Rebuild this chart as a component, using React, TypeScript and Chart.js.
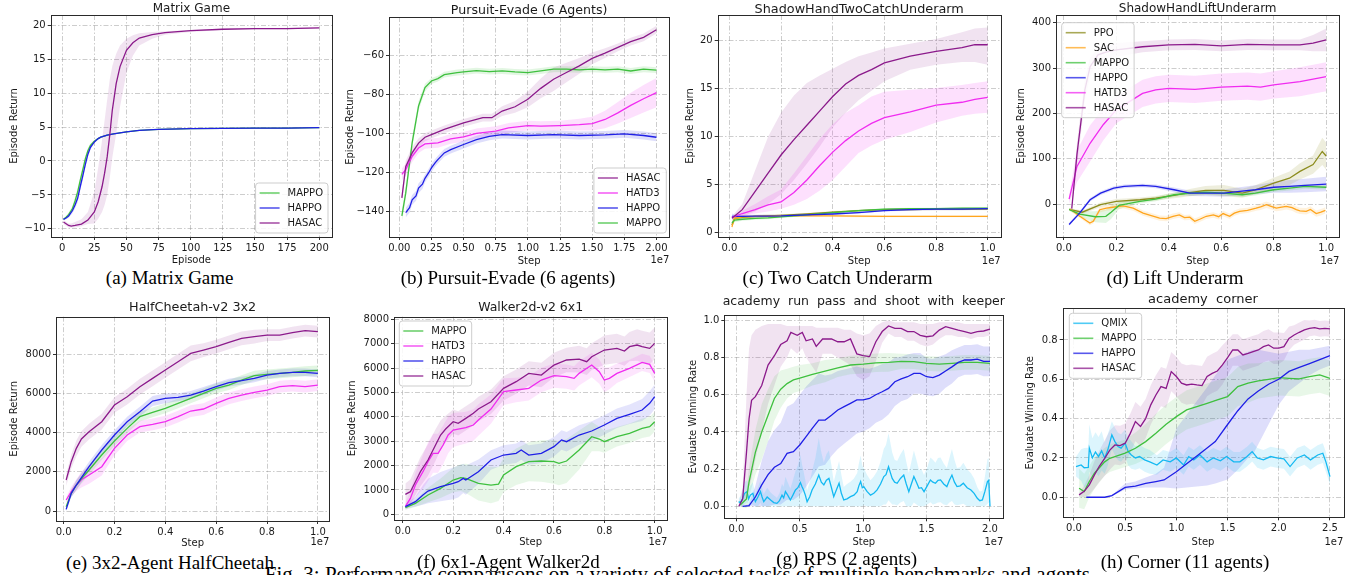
import React, { useEffect, useRef } from "react";
import { Chart, registerables } from "chart.js";
Chart.register(...registerables);

// ---------- colours ----------
const COLORS: Record<string, string> = {
  MAPPO: "#3fc03f",
  HAPPO: "#1f1fe6",
  HASAC: "#8b1a8b",
  HATD3: "#f02cf0",
  PPO: "#8c8c1e",
  SAC: "#ffa51e",
  QMIX: "#14b9f2",
};

// ---------- (a) Matrix Game ----------
const A_XTICKS = [0, 25, 50, 75, 100, 125, 150, 175, 200];
const A_YTICKS = [-10, -5, 0, 5, 10, 15, 20];
const A_HASAC_X = [1, 5, 7, 10, 15, 20, 25, 28, 31, 33, 35, 37, 39, 42, 45, 50, 55, 60, 70, 80, 100, 125, 150, 175, 200];
const A_HASAC = [-9.0, -9.5, -9.6, -9.5, -9.3, -8.7, -7.5, -6.0, -3.8, -1.8, 0.6, 3.8, 7.5, 11.4, 13.9, 16.3, 17.4, 18.1, 18.6, 18.9, 19.2, 19.4, 19.5, 19.5, 19.6];
const A_HASAC_HI = [-8.7, -9.2, -9.2, -9.0, -8.6, -7.5, -4.5, -1.0, 3.0, 6.0, 9.0, 12.0, 14.0, 15.8, 17.0, 18.0, 18.5, 18.8, 19.0, 19.1, 19.3, 19.5, 19.6, 19.6, 19.7];
const A_HASAC_LO = [-9.3, -9.8, -9.8, -9.8, -9.6, -9.3, -9.2, -8.5, -7.5, -6.5, -5.0, -2.5, 0.5, 4.0, 8.0, 13.0, 15.5, 17.0, 18.0, 18.6, 19.0, 19.3, 19.4, 19.4, 19.5];
const A_X = [1, 3, 5, 8, 10, 12, 14, 16, 18, 20, 22, 25, 28, 30, 35, 40, 50, 60, 75, 100, 125, 150, 175, 200];
const A_HAPPO = [-8.6, -8.4, -8.1, -7.3, -6.5, -5.5, -3.8, -2.2, -0.5, 1.0, 2.0, 2.8, 3.3, 3.5, 3.8, 4.0, 4.3, 4.5, 4.65, 4.75, 4.8, 4.85, 4.85, 4.9];
const A_MAPPO = [-8.6, -8.3, -7.9, -7.0, -5.9, -4.6, -2.9, -1.3, 0.3, 1.5, 2.3, 2.9, 3.3, 3.5, 3.8, 4.0, 4.3, 4.5, 4.65, 4.75, 4.8, 4.85, 4.85, 4.9];
const A_BAND_SD = [0.1, 0.2, 0.3, 0.4, 0.5, 0.6, 0.6, 0.6, 0.5, 0.4, 0.3, 0.2, 0.15, 0.1, 0.08, 0.06, 0.05, 0.04, 0.03, 0.03, 0.03, 0.03, 0.03, 0.03];

// ---------- (b) Pursuit-Evade ----------
const B_XTICKS = [0, 0.25, 0.5, 0.75, 1.0, 1.25, 1.5, 1.75, 2.0];
const B_YTICKS = [-140, -120, -100, -80, -60];
const B_HASAC_X = [0.02, 0.05, 0.1, 0.15, 0.2, 0.25, 0.35, 0.5, 0.65, 0.72, 0.8, 0.9, 1.0, 1.1, 1.2, 1.3, 1.4, 1.5, 1.6, 1.7, 1.8, 1.9, 2.0];
const B_HASAC = [-133, -117, -110, -105, -102, -100.6, -98, -94.6, -92, -92, -88.6, -86.4, -82.6, -77, -72.3, -68.9, -65.5, -61.7, -59, -56, -53.1, -50.9, -47];
const B_HASAC_SD = [3, 3, 3, 2.5, 2, 2, 2, 2, 2, 2, 2.5, 3, 4, 5, 6, 5, 4, 3, 2.5, 2, 2, 2, 2];
const B_HATD3_X = [0.02, 0.05, 0.1, 0.15, 0.2, 0.3, 0.4, 0.5, 0.6, 0.75, 0.85, 1.0, 1.1, 1.25, 1.4, 1.5, 1.6, 1.7, 1.8, 1.9, 2.0];
const B_HATD3 = [-121, -118.6, -111.7, -107.5, -105.4, -104.9, -102.8, -101.8, -100, -98.9, -97.2, -96, -96.3, -96, -95.5, -95, -92.9, -89.5, -85.7, -82.3, -79.2];
const B_HATD3_SD = [3, 3, 3, 2.5, 2.5, 2.5, 2.5, 2.5, 2.5, 2.5, 2.5, 2.5, 2.5, 2.5, 3, 3.5, 4.5, 5.5, 6.5, 7, 7.5];
const B_HAPPO_X = [0.05, 0.08, 0.1, 0.13, 0.15, 0.18, 0.2, 0.23, 0.25, 0.28, 0.3, 0.35, 0.4, 0.5, 0.6, 0.7, 0.8, 1.0, 1.2, 1.4, 1.6, 1.75, 1.9, 2.0];
const B_HAPPO = [-140.5, -138, -134, -132, -128, -126, -123, -120, -117.7, -115, -113.4, -110, -108.3, -105.7, -103.2, -101.5, -100.6, -101.1, -100.6, -101.1, -100.8, -100.3, -101.1, -102];
const B_HAPPO_SD = [2.5, 2.5, 2.5, 2.5, 2.5, 2.5, 2, 2, 2, 2, 2, 2, 2, 2, 2, 2, 2, 2, 2, 2, 2, 2, 2, 2];
const B_MAPPO_X = [0.02, 0.05, 0.1, 0.15, 0.2, 0.25, 0.3, 0.35, 0.45, 0.5, 0.6, 0.7, 0.8, 0.9, 1.0, 1.1, 1.2, 1.3, 1.4, 1.5, 1.6, 1.7, 1.8, 1.9, 2.0];
const B_MAPPO = [-142.2, -130.6, -104.9, -86, -76.6, -73.2, -72, -70, -68.9, -68.6, -67.9, -68.4, -68.1, -68.6, -68.9, -68.1, -67.2, -67.2, -67.5, -67.2, -67.5, -67.2, -68.1, -67.2, -67.7];
const B_MAPPO_SD = [3, 3, 3, 2.5, 2, 1.5, 1.5, 1.5, 1.5, 1.5, 1.5, 1.5, 1.5, 1.5, 1.5, 1.5, 1.5, 1.5, 1.5, 1.5, 1.5, 1.5, 1.5, 1.5, 1.5];

// ---------- (c) Two Catch Underarm ----------
const C_XTICKS = [0, 0.2, 0.4, 0.6, 0.8, 1.0];
const C_YTICKS = [0, 5, 10, 15, 20];
const C_X = [0.01, 0.05, 0.1, 0.15, 0.2, 0.25, 0.3, 0.35, 0.4, 0.45, 0.5, 0.55, 0.6, 0.7, 0.8, 0.9, 0.95, 1.0];
const C_HASAC = [1.5, 2.4, 4.3, 6.2, 8.1, 9.7, 11.2, 12.7, 14.2, 15.5, 16.4, 17.0, 17.7, 18.4, 18.9, 19.3, 19.6, 19.6];
const C_HASAC_HI = [1.7, 3.0, 6.5, 10.0, 12.5, 14.3, 15.6, 16.4, 17.1, 17.8, 18.4, 18.8, 19.2, 19.7, 20.2, 20.9, 21.3, 21.4];
const C_HASAC_LO = [1.3, 1.7, 2.2, 3.0, 4.0, 5.5, 7.2, 9.0, 11.0, 12.5, 13.8, 14.8, 15.8, 17.0, 17.5, 17.8, 17.8, 17.5];
const C_HATD3 = [1.6, 2.0, 2.4, 2.9, 3.2, 4.2, 5.5, 7.0, 8.4, 9.6, 10.6, 11.4, 12.0, 12.6, 13.3, 13.6, 13.9, 14.1];
const C_HATD3_HI = [1.7, 2.3, 3.0, 3.8, 4.5, 6.2, 8.0, 9.8, 11.3, 12.5, 13.3, 14.2, 14.7, 14.9, 15.1, 15.4, 15.6, 15.8];
const C_HATD3_LO = [1.5, 1.7, 2.0, 2.2, 2.5, 2.9, 3.5, 4.4, 5.5, 6.9, 8.3, 9.1, 9.7, 10.5, 11.5, 12.2, 12.4, 12.5];
const C_X2 = [0.01, 0.02, 0.05, 0.1, 0.15, 0.2, 0.3, 0.4, 0.5, 0.6, 0.7, 0.8, 0.9, 1.0];
const C_PPO = [0.8, 1.5, 1.6, 1.7, 1.75, 1.8, 1.95, 2.15, 2.3, 2.4, 2.42, 2.45, 2.45, 2.45];
const C_SAC = [0.6, 1.5, 1.65, 1.7, 1.72, 1.75, 1.75, 1.75, 1.72, 1.7, 1.7, 1.7, 1.7, 1.7];
const C_MAPPO = [1.0, 1.3, 1.4, 1.5, 1.55, 1.65, 1.85, 2.1, 2.3, 2.45, 2.5, 2.5, 2.55, 2.55];
const C_HAPPO = [1.7, 1.7, 1.7, 1.72, 1.73, 1.75, 1.85, 1.95, 2.1, 2.3, 2.4, 2.45, 2.45, 2.5];
const C_LOW_SD = [0.3, 0.2, 0.15, 0.15, 0.15, 0.12, 0.1, 0.1, 0.1, 0.1, 0.1, 0.1, 0.1, 0.1];

// ---------- (d) Lift Underarm ----------
const D_XTICKS = [0, 0.2, 0.4, 0.6, 0.8, 1.0];
const D_YTICKS = [0, 100, 200, 300, 400];
const D_HASAC_X = [0.03, 0.05, 0.08, 0.1, 0.13, 0.16, 0.2, 0.3, 0.4, 0.5, 0.6, 0.7, 0.8, 0.9, 0.95, 1.0];
const D_HASAC = [-10, 110, 252, 303, 329, 335, 340, 347, 351, 352, 349, 352, 351, 351, 355, 362];
const D_HASAC_SD = [5, 25, 25, 20, 15, 15, 15, 12, 12, 12, 12, 12, 12, 12, 18, 25];
const D_HATD3_X = [0.02, 0.05, 0.1, 0.15, 0.2, 0.25, 0.3, 0.35, 0.4, 0.5, 0.6, 0.7, 0.75, 0.8, 0.9, 1.0];
const D_HATD3 = [11, 83, 134, 175, 208, 226, 244, 252, 255, 253, 258, 260, 258, 263, 270, 281];
const D_HATD3_SD = [10, 35, 40, 35, 30, 30, 30, 30, 30, 30, 30, 30, 30, 30, 32, 32];
const D_HAPPO_X = [0.02, 0.06, 0.1, 0.14, 0.19, 0.23, 0.3, 0.35, 0.42, 0.48, 0.54, 0.61, 0.67, 0.73, 0.8, 0.86, 0.92, 1.0];
const D_HAPPO = [-45, -20, 9.5, 24, 35, 39, 41, 39, 31.5, 24, 24, 24, 28, 31.5, 37, 39, 41, 44];
const D_HAPPO_SD = [3, 4, 4, 4, 4, 4, 4, 4, 5, 6, 7, 8, 9, 10, 12, 14, 15, 16];
const D_PPO_X = [0.02, 0.07, 0.14, 0.2, 0.29, 0.35, 0.42, 0.48, 0.54, 0.61, 0.68, 0.73, 0.8, 0.86, 0.9, 0.95, 0.985, 1.0];
const D_PPO = [-12, -18, -1.5, 6, 9.5, 13, 19, 25, 30, 30, 24, 31.5, 46, 57, 72, 87, 116, 106];
const D_PPO_SD = [3, 4, 5, 5, 5, 5, 6, 8, 10, 12, 10, 10, 12, 15, 18, 20, 30, 30];
const D_MAPPO_X = [0.02, 0.06, 0.12, 0.16, 0.18, 0.21, 0.29, 0.35, 0.42, 0.48, 0.54, 0.61, 0.68, 0.73, 0.8, 0.86, 0.92, 1.0];
const D_MAPPO = [-12, -22, -28, -27, -18, -3, 6, 11, 20.5, 24, 26, 24, 20.5, 24, 31.5, 35, 39, 37];
const D_MAPPO_SD = [3, 6, 12, 15, 15, 8, 5, 5, 5, 5, 5, 5, 5, 5, 5, 5, 5, 5];
const D_SAC_X = [0.023, 0.061, 0.099, 0.112, 0.137, 0.162, 0.2, 0.226, 0.264, 0.302, 0.33, 0.365, 0.39, 0.416, 0.44, 0.46, 0.48, 0.499, 0.52, 0.543, 0.57, 0.59, 0.607, 0.632, 0.65, 0.67, 0.7, 0.733, 0.75, 0.772, 0.79, 0.81, 0.83, 0.848, 0.87, 0.886, 0.9, 0.924, 0.94, 0.962, 0.98, 0.997];
const D_SAC = [-11, -27, -42, -38, -12.5, -9, -6, -4, -9, -20, -25, -31, -32, -27, -24, -30, -29, -38, -33, -27, -24, -28, -21, -27, -20, -16, -14, -9, -6, -1.5, -5, -9, -7, -5, -8, -12.5, -15, -16, -12, -21, -18, -14];
const D_SAC_SD = [3, 4, 5, 5, 6, 6, 6, 6, 6, 6, 6, 6, 6, 6, 6, 6, 6, 6, 6, 6, 6, 6, 6, 6, 6, 6, 6, 6, 7, 7, 7, 7, 7, 7, 7, 7, 7, 7, 7, 7, 7, 7];

// ---------- (e) HalfCheetah ----------
const E_XTICKS = [0, 0.2, 0.4, 0.6, 0.8, 1.0];
const E_YTICKS = [0, 2000, 4000, 6000, 8000];
const E_X = [0.01, 0.03, 0.05, 0.07, 0.1, 0.15, 0.2, 0.25, 0.3, 0.35, 0.4, 0.45, 0.5, 0.55, 0.6, 0.65, 0.7, 0.75, 0.8, 0.85, 0.9, 0.95, 1.0];
const E_HASAC = [1583, 2519, 3200, 3677, 4051, 4562, 5413, 5838, 6349, 6774, 7200, 7626, 8051, 8221, 8391, 8613, 8817, 8902, 8987, 8987, 9106, 9208, 9157];
const E_HAPPO = [85, 900, 1327, 1700, 2264, 3115, 3880, 4562, 5072, 5617, 5753, 5804, 5923, 6128, 6349, 6553, 6655, 6774, 6945, 7030, 7081, 7081, 7030];
const E_MAPPO = [221, 900, 1327, 1650, 2094, 2860, 3574, 4221, 4817, 5038, 5243, 5498, 5753, 6009, 6264, 6434, 6689, 6911, 6979, 7030, 7081, 7149, 7183];
const E_HATD3 = [562, 987, 1327, 1600, 1838, 2264, 3200, 3880, 4306, 4426, 4562, 4817, 5106, 5209, 5498, 5753, 5923, 6060, 6179, 6349, 6400, 6349, 6434];
const E_HASAC_SD = [300, 350, 400, 400, 400, 400, 400, 400, 400, 400, 400, 400, 400, 350, 350, 350, 350, 350, 300, 300, 300, 300, 300];
const E_HAPPO_SD = [100, 200, 250, 250, 250, 250, 250, 250, 250, 250, 250, 200, 200, 200, 200, 200, 200, 200, 200, 200, 200, 200, 200];
const E_MAPPO_SD = [100, 200, 250, 250, 250, 250, 250, 250, 250, 250, 250, 250, 250, 250, 250, 250, 250, 250, 250, 250, 250, 250, 250];
const E_HATD3_SD = [150, 250, 300, 400, 450, 450, 350, 300, 300, 300, 300, 300, 300, 300, 300, 300, 300, 300, 300, 300, 300, 300, 300];

// ---------- (f) Walker2d ----------
const F_XTICKS = [0, 0.2, 0.4, 0.6, 0.8, 1.0];
const F_YTICKS = [0, 1000, 2000, 3000, 4000, 5000, 6000, 7000, 8000];
const F_HASAC_X = [0.01, 0.03, 0.05, 0.07, 0.1, 0.13, 0.15, 0.17, 0.2, 0.22, 0.25, 0.28, 0.3, 0.35, 0.4, 0.45, 0.5, 0.55, 0.6, 0.65, 0.7, 0.73, 0.75, 0.8, 0.85, 0.88, 0.9, 0.93, 0.95, 0.98, 1.0];
const F_HASAC = [820, 930, 1340, 1750, 2229, 2844, 3255, 3500, 3802, 3733, 3938, 4144, 4321, 4622, 5169, 5443, 5785, 5716, 6126, 6332, 6372, 6263, 6468, 6742, 6810, 6701, 6879, 6947, 6879, 6810, 7015];
const F_HASAC_SD = [450, 500, 550, 600, 650, 650, 600, 550, 500, 500, 500, 500, 500, 500, 500, 500, 500, 500, 500, 500, 550, 550, 550, 600, 600, 600, 600, 650, 650, 650, 650];
const F_HATD3_X = [0.01, 0.03, 0.05, 0.08, 0.1, 0.12, 0.14, 0.16, 0.18, 0.2, 0.25, 0.28, 0.3, 0.35, 0.4, 0.45, 0.5, 0.55, 0.6, 0.65, 0.68, 0.7, 0.75, 0.78, 0.8, 0.82, 0.85, 0.9, 0.95, 0.98, 1.0];
const F_HATD3 = [315, 656, 1203, 1750, 2160, 2503, 2503, 2844, 3255, 3460, 3556, 3665, 3870, 4321, 5032, 5101, 5169, 5511, 5689, 5648, 5580, 5785, 6126, 5853, 5511, 5580, 5785, 5990, 6236, 6154, 5785];
const F_HATD3_SD = [150, 300, 500, 700, 800, 800, 800, 800, 750, 700, 650, 650, 650, 600, 550, 500, 500, 500, 500, 500, 500, 500, 500, 500, 500, 450, 400, 350, 350, 350, 350];
const F_HAPPO_X = [0.01, 0.05, 0.08, 0.1, 0.15, 0.2, 0.22, 0.24, 0.25, 0.3, 0.35, 0.4, 0.45, 0.47, 0.5, 0.55, 0.6, 0.63, 0.65, 0.7, 0.75, 0.8, 0.85, 0.9, 0.95, 0.98, 1.0];
const F_HAPPO = [315, 520, 793, 957, 1135, 1272, 1340, 1477, 1408, 1750, 2229, 2434, 2503, 2639, 2434, 2503, 2776, 3050, 2981, 3255, 3419, 3665, 3938, 4103, 4280, 4554, 4827];
const F_HAPPO_SD = [100, 200, 400, 500, 600, 650, 650, 600, 600, 500, 400, 400, 400, 400, 400, 400, 400, 400, 400, 400, 400, 400, 400, 400, 450, 500, 500];
const F_MAPPO_X = [0.01, 0.05, 0.1, 0.15, 0.2, 0.23, 0.25, 0.3, 0.35, 0.38, 0.4, 0.45, 0.5, 0.55, 0.6, 0.62, 0.65, 0.7, 0.75, 0.78, 0.8, 0.85, 0.9, 0.95, 0.98, 1.0];
const F_MAPPO = [273, 451, 793, 1067, 1408, 1504, 1477, 1272, 1203, 1244, 1614, 1955, 2160, 2188, 2160, 2092, 2188, 2639, 3186, 3091, 2981, 3186, 3323, 3528, 3597, 3802];
const F_MAPPO_SD = [80, 150, 300, 400, 500, 550, 600, 700, 750, 700, 700, 750, 800, 850, 900, 900, 900, 800, 600, 500, 450, 400, 400, 400, 400, 400];

// ---------- (g) RPS ----------
const G_XTICKS = [0, 0.5, 1.0, 1.5, 2.0];
const G_YTICKS = [0, 0.2, 0.4, 0.6, 0.8, 1.0];
const G_HASAC_X = [0.02, 0.05, 0.08, 0.1, 0.12, 0.15, 0.2, 0.25, 0.3, 0.35, 0.4, 0.43, 0.48, 0.52, 0.55, 0.6, 0.63, 0.68, 0.75, 0.8, 0.85, 0.9, 0.95, 1.0, 1.05, 1.1, 1.15, 1.2, 1.25, 1.3, 1.35, 1.4, 1.45, 1.5, 1.55, 1.6, 1.65, 1.7, 1.75, 1.8, 1.85, 1.9, 1.95, 2.0];
const G_HASAC = [0, 0.04, 0.29, 0.47, 0.57, 0.59, 0.65, 0.76, 0.81, 0.87, 0.89, 0.935, 0.92, 0.935, 0.89, 0.9, 0.86, 0.9, 0.9, 0.885, 0.885, 0.9, 0.82, 0.81, 0.805, 0.885, 0.94, 0.97, 0.957, 0.957, 0.94, 0.94, 0.92, 0.912, 0.917, 0.948, 0.966, 0.957, 0.948, 0.94, 0.93, 0.94, 0.943, 0.953];
const G_HASAC_HI = [0.02, 0.1, 0.6, 0.85, 0.92, 0.95, 0.97, 0.98, 0.98, 0.98, 0.97, 0.97, 0.97, 0.97, 0.97, 0.97, 0.96, 0.96, 0.96, 0.96, 0.95, 0.95, 0.93, 0.92, 0.93, 0.97, 0.99, 1.0, 0.99, 0.99, 0.99, 0.99, 0.98, 0.98, 0.98, 0.99, 0.99, 0.99, 0.99, 0.98, 0.98, 0.98, 0.98, 0.98];
const G_HASAC_LO = [0, 0, 0.05, 0.1, 0.15, 0.25, 0.4, 0.55, 0.65, 0.75, 0.8, 0.85, 0.82, 0.85, 0.8, 0.75, 0.72, 0.82, 0.82, 0.8, 0.78, 0.76, 0.7, 0.68, 0.7, 0.78, 0.88, 0.93, 0.91, 0.91, 0.89, 0.89, 0.87, 0.86, 0.87, 0.9, 0.92, 0.92, 0.91, 0.91, 0.9, 0.91, 0.91, 0.92];
const G_MAPPO_X = [0.03, 0.08, 0.1, 0.15, 0.2, 0.25, 0.3, 0.35, 0.4, 0.45, 0.5, 0.6, 0.7, 0.8, 0.9, 1.0, 1.1, 1.2, 1.3, 1.4, 1.5, 1.6, 1.7, 1.8, 1.9, 2.0];
const G_MAPPO = [0.007, 0.04, 0.13, 0.29, 0.4, 0.49, 0.58, 0.63, 0.66, 0.68, 0.69, 0.71, 0.727, 0.745, 0.76, 0.765, 0.772, 0.774, 0.78, 0.778, 0.769, 0.765, 0.769, 0.774, 0.774, 0.769];
const G_MAPPO_SD = [0.01, 0.05, 0.08, 0.12, 0.15, 0.14, 0.12, 0.1, 0.08, 0.07, 0.07, 0.06, 0.06, 0.05, 0.05, 0.05, 0.05, 0.05, 0.04, 0.04, 0.04, 0.04, 0.04, 0.04, 0.04, 0.04];
const G_HAPPO_X = [0.05, 0.1, 0.15, 0.2, 0.25, 0.3, 0.35, 0.4, 0.45, 0.5, 0.55, 0.6, 0.65, 0.7, 0.75, 0.8, 0.85, 0.9, 0.95, 1.0, 1.05, 1.1, 1.15, 1.2, 1.25, 1.3, 1.35, 1.4, 1.45, 1.5, 1.55, 1.6, 1.65, 1.7, 1.75, 1.8, 1.85, 1.9, 1.95, 2.0];
const G_HAPPO = [0, 0.004, 0.05, 0.115, 0.17, 0.21, 0.23, 0.285, 0.294, 0.33, 0.375, 0.42, 0.464, 0.464, 0.49, 0.518, 0.536, 0.554, 0.572, 0.572, 0.58, 0.6, 0.616, 0.634, 0.67, 0.685, 0.697, 0.715, 0.715, 0.697, 0.692, 0.706, 0.728, 0.75, 0.774, 0.787, 0.787, 0.792, 0.78, 0.78];
const G_HAPPO_SD = [0, 0.01, 0.06, 0.13, 0.18, 0.2, 0.22, 0.25, 0.26, 0.27, 0.27, 0.26, 0.25, 0.24, 0.22, 0.21, 0.2, 0.19, 0.18, 0.17, 0.16, 0.15, 0.15, 0.14, 0.13, 0.12, 0.12, 0.11, 0.11, 0.1, 0.1, 0.1, 0.09, 0.09, 0.08, 0.08, 0.08, 0.08, 0.08, 0.08];
const G_QMIX_X = [0.018, 0.03, 0.045, 0.065, 0.084, 0.097, 0.11, 0.13, 0.15, 0.17, 0.19, 0.203, 0.216, 0.243, 0.27, 0.295, 0.32, 0.34, 0.36, 0.373, 0.387, 0.405, 0.426, 0.446, 0.466, 0.485, 0.505, 0.518, 0.53, 0.544, 0.558, 0.578, 0.597, 0.623, 0.65, 0.67, 0.69, 0.71, 0.73, 0.75, 0.768, 0.79, 0.81, 0.828, 0.847, 0.873, 0.9, 0.927, 0.953, 0.966, 0.98, 0.993, 1.005, 1.03, 1.058, 1.084, 1.11, 1.137, 1.163, 1.18, 1.2, 1.215, 1.229, 1.248, 1.268, 1.294, 1.32, 1.34, 1.36, 1.38, 1.4, 1.42, 1.44, 1.46, 1.48, 1.505, 1.53, 1.55, 1.57, 1.59, 1.61, 1.635, 1.66, 1.68, 1.7, 1.72, 1.74, 1.765, 1.79, 1.82, 1.85, 1.875, 1.9, 1.92, 1.94, 1.96, 1.98, 1.99, 2.0];
const G_QMIX = [0.025, 0.02, 0.034, 0.07, 0.079, 0.04, 0.06, 0.07, 0.025, 0.05, 0.079, 0.05, 0.025, 0.05, 0.034, 0.02, 0.016, 0.03, 0.06, 0.045, 0.079, 0.06, 0.034, 0.06, 0.088, 0.1, 0.127, 0.105, 0.088, 0.06, 0.025, 0.05, 0.088, 0.12, 0.168, 0.13, 0.115, 0.14, 0.15, 0.1, 0.052, 0.09, 0.124, 0.07, 0.034, 0.04, 0.052, 0.06, 0.079, 0.11, 0.133, 0.1, 0.106, 0.08, 0.06, 0.07, 0.088, 0.12, 0.16, 0.17, 0.213, 0.18, 0.15, 0.13, 0.124, 0.15, 0.168, 0.12, 0.079, 0.12, 0.16, 0.13, 0.097, 0.1, 0.079, 0.11, 0.142, 0.13, 0.124, 0.14, 0.142, 0.12, 0.106, 0.14, 0.168, 0.13, 0.106, 0.11, 0.124, 0.1, 0.088, 0.07, 0.043, 0.03, 0.034, 0.08, 0.133, 0.14, 0];
const G_QMIX_SD = [0.02, 0.03, 0.04, 0.06, 0.06, 0.05, 0.05, 0.06, 0.04, 0.05, 0.06, 0.05, 0.04, 0.05, 0.04, 0.04, 0.03, 0.04, 0.06, 0.06, 0.08, 0.07, 0.06, 0.08, 0.1, 0.12, 0.15, 0.12, 0.1, 0.08, 0.06, 0.08, 0.1, 0.14, 0.2, 0.16, 0.12, 0.14, 0.15, 0.12, 0.08, 0.1, 0.12, 0.1, 0.07, 0.08, 0.08, 0.09, 0.1, 0.12, 0.14, 0.12, 0.1, 0.09, 0.08, 0.09, 0.1, 0.12, 0.15, 0.16, 0.18, 0.16, 0.14, 0.12, 0.12, 0.13, 0.14, 0.12, 0.1, 0.12, 0.14, 0.12, 0.1, 0.1, 0.09, 0.1, 0.12, 0.12, 0.11, 0.12, 0.12, 0.11, 0.1, 0.12, 0.14, 0.12, 0.1, 0.1, 0.11, 0.1, 0.09, 0.08, 0.06, 0.05, 0.05, 0.08, 0.12, 0.12, 0.02];

// ---------- (h) Corner ----------
const H_XTICKS = [0, 0.5, 1.0, 1.5, 2.0, 2.5];
const H_YTICKS = [0, 0.2, 0.4, 0.6, 0.8];
const H_HASAC_X = [0.05, 0.1, 0.15, 0.2, 0.25, 0.3, 0.35, 0.4, 0.45, 0.5, 0.55, 0.6, 0.65, 0.7, 0.75, 0.8, 0.85, 0.9, 0.95, 1.0, 1.05, 1.1, 1.15, 1.2, 1.25, 1.3, 1.35, 1.4, 1.45, 1.5, 1.55, 1.6, 1.65, 1.7, 1.75, 1.8, 1.85, 1.9, 1.95, 2.0, 2.05, 2.1, 2.15, 2.2, 2.25, 2.3, 2.35, 2.4, 2.45, 2.5];
const H_HASAC = [0.012, 0.03, 0.063, 0.114, 0.16, 0.198, 0.24, 0.266, 0.263, 0.275, 0.325, 0.385, 0.36, 0.4, 0.47, 0.52, 0.563, 0.554, 0.639, 0.614, 0.58, 0.571, 0.575, 0.571, 0.568, 0.614, 0.63, 0.642, 0.673, 0.71, 0.749, 0.749, 0.724, 0.732, 0.741, 0.749, 0.766, 0.775, 0.758, 0.758, 0.766, 0.808, 0.825, 0.839, 0.851, 0.859, 0.863, 0.856, 0.859, 0.856];
const H_HASAC_SD = [0.01, 0.03, 0.05, 0.07, 0.08, 0.09, 0.1, 0.1, 0.1, 0.1, 0.1, 0.1, 0.1, 0.1, 0.1, 0.1, 0.1, 0.1, 0.1, 0.1, 0.1, 0.1, 0.1, 0.1, 0.1, 0.1, 0.1, 0.1, 0.1, 0.09, 0.08, 0.08, 0.08, 0.08, 0.08, 0.08, 0.08, 0.08, 0.08, 0.08, 0.07, 0.06, 0.05, 0.05, 0.05, 0.04, 0.04, 0.04, 0.04, 0.04];
const H_MAPPO_X = [0.05, 0.1, 0.15, 0.2, 0.3, 0.35, 0.4, 0.5, 0.6, 0.7, 0.8, 0.9, 1.0, 1.1, 1.2, 1.3, 1.4, 1.5, 1.6, 1.7, 1.8, 1.9, 2.0, 2.1, 2.2, 2.3, 2.4, 2.5];
const H_MAPPO = [0.046, 0.029, 0.08, 0.122, 0.18, 0.198, 0.207, 0.224, 0.249, 0.283, 0.325, 0.371, 0.41, 0.444, 0.461, 0.478, 0.495, 0.512, 0.563, 0.58, 0.592, 0.6, 0.608, 0.605, 0.602, 0.614, 0.622, 0.605];
const H_MAPPO_SD = [0.1, 0.09, 0.08, 0.08, 0.07, 0.07, 0.07, 0.07, 0.08, 0.09, 0.1, 0.1, 0.1, 0.1, 0.1, 0.1, 0.1, 0.1, 0.1, 0.1, 0.09, 0.09, 0.09, 0.09, 0.09, 0.09, 0.09, 0.09];
const H_HAPPO_X = [0.12, 0.3, 0.37, 0.5, 0.6, 0.7, 0.8, 0.88, 1.0, 1.1, 1.2, 1.3, 1.38, 1.5, 1.6, 1.7, 1.75, 1.8, 1.9, 2.0, 2.1, 2.2, 2.3, 2.4, 2.5];
const H_HAPPO = [0, 0, 0.008, 0.05, 0.056, 0.071, 0.08, 0.088, 0.13, 0.17, 0.21, 0.25, 0.283, 0.37, 0.44, 0.5, 0.52, 0.54, 0.575, 0.6, 0.64, 0.66, 0.68, 0.7, 0.72];
const H_HAPPO_HI = [0, 0, 0.01, 0.07, 0.08, 0.1, 0.12, 0.15, 0.35, 0.42, 0.49, 0.56, 0.62, 0.7, 0.72, 0.74, 0.75, 0.75, 0.74, 0.73, 0.74, 0.75, 0.75, 0.76, 0.77];
const H_HAPPO_LO = [0, 0, 0.005, 0.04, 0.045, 0.05, 0.05, 0.05, 0.045, 0.05, 0.055, 0.06, 0.07, 0.09, 0.14, 0.2, 0.22, 0.27, 0.37, 0.47, 0.54, 0.58, 0.62, 0.65, 0.67];
const H_QMIX_X = [0.02, 0.07, 0.1, 0.14, 0.15, 0.18, 0.21, 0.24, 0.27, 0.3, 0.33, 0.37, 0.4, 0.43, 0.46, 0.5, 0.53, 0.56, 0.6, 0.64, 0.69, 0.74, 0.81, 0.87, 0.94, 1.0, 1.07, 1.12, 1.17, 1.23, 1.3, 1.36, 1.43, 1.49, 1.56, 1.62, 1.69, 1.74, 1.79, 1.85, 1.92, 1.98, 2.05, 2.11, 2.18, 2.25, 2.31, 2.38, 2.43, 2.46, 2.5];
const H_QMIX = [0.156, 0.164, 0.15, 0.152, 0.25, 0.2, 0.23, 0.207, 0.236, 0.2, 0.24, 0.317, 0.283, 0.258, 0.25, 0.275, 0.232, 0.215, 0.2, 0.207, 0.19, 0.18, 0.164, 0.19, 0.18, 0.2, 0.164, 0.207, 0.19, 0.215, 0.18, 0.2, 0.185, 0.207, 0.18, 0.18, 0.207, 0.232, 0.2, 0.19, 0.207, 0.2, 0.195, 0.156, 0.2, 0.215, 0.19, 0.215, 0.224, 0.18, 0.105];
const H_QMIX_SD = [0.05, 0.08, 0.1, 0.1, 0.12, 0.1, 0.1, 0.1, 0.1, 0.08, 0.08, 0.07, 0.07, 0.07, 0.07, 0.07, 0.07, 0.07, 0.06, 0.06, 0.06, 0.06, 0.05, 0.05, 0.05, 0.05, 0.05, 0.05, 0.05, 0.05, 0.05, 0.05, 0.05, 0.05, 0.05, 0.05, 0.05, 0.05, 0.05, 0.05, 0.05, 0.05, 0.05, 0.05, 0.05, 0.05, 0.05, 0.05, 0.05, 0.05, 0.04];

// ---------- helpers ----------
type Series = { label: string; x: number[]; y: number[]; sd?: number[]; lo?: number[]; hi?: number[]; floor?: number; alpha?: number };
type Spec = {
  title: string; titleSize: number; xLabel: string; yLabel: string; offset: string;
  ca: { l: number; t: number; r: number; b: number };
  titleY: number; yTitleX: number; xTitleY: number;
  xMin: number; xMax: number; yMin: number; yMax: number;
  xTicks: number[]; yTicks: number[]; xDec: number; yDec: number;
  series: Series[];
  legend?: { pos: "lr" | "ul"; dx: number; dy: number; items: string[] };
  caption: string; capX: number; capY: number;
};

function rgba(hex: string, a: number) {
  const n = parseInt(hex.slice(1), 16);
  return `rgba(${(n >> 16) & 255},${(n >> 8) & 255},${n & 255},${a})`;
}
const fmt = (d: number) => (v: number) => (v < 0 ? "\u2212" : "") + Math.abs(v).toFixed(d);
const pts = (x: number[], y: number[]) => x.map((v, i) => ({ x: v, y: y[i] }));

function buildDatasets(series: Series[]) {
  const out: any[] = [];
  series.forEach((s) => {
    const c = COLORS[s.label];
    let lo = s.lo, hi = s.hi;
    if (!lo && s.sd) lo = s.y.map((v, i) => v - s.sd![i]);
    if (!hi && s.sd) hi = s.y.map((v, i) => v + s.sd![i]);
    if (lo && s.floor !== undefined) lo = lo.map((v) => Math.max(s.floor!, v));
    if (lo && hi) {
      out.push({ data: pts(s.x, lo), borderColor: "rgba(0,0,0,0)", borderWidth: 0, pointRadius: 0, fill: false, order: 100 });
      out.push({ data: pts(s.x, hi), borderColor: "rgba(0,0,0,0)", borderWidth: 0, pointRadius: 0, fill: "-1", backgroundColor: rgba(c, s.alpha ?? 0.15), order: 100 });
    }
  });
  const n = series.length;
  series.forEach((s, i) => {
    out.push({ label: s.label, data: pts(s.x, s.y), borderColor: COLORS[s.label], borderWidth: 1.3, pointRadius: 0, fill: false, order: n - i });
  });
  return out;
}

const PANELS: Spec[] = [
  {
    title: "Matrix Game", titleSize: 12, xLabel: "Episode", yLabel: "Episode Return", offset: "",
    ca: { l: 50.7, t: 15, r: 332, b: 237 }, titleY: 9, yTitleX: 14.3, xTitleY: 260,
    xMin: -8.95, xMax: 209.95, yMin: -11.2, yMax: 21.5, xTicks: A_XTICKS, yTicks: A_YTICKS, xDec: 0, yDec: 0,
    series: [
      { label: "MAPPO", x: A_X, y: A_MAPPO, sd: A_BAND_SD },
      { label: "HAPPO", x: A_X, y: A_HAPPO, sd: A_BAND_SD },
      { label: "HASAC", x: A_HASAC_X, y: A_HASAC, lo: A_HASAC_LO, hi: A_HASAC_HI, alpha: 0.12 },
    ],
    legend: { pos: "lr", dx: 4, dy: 4, items: ["MAPPO", "HAPPO", "HASAC"] },
    caption: "(a) Matrix Game", capX: 169.7, capY: 276.7,
  },
  {
    title: "Pursuit-Evade (6 Agents)", titleSize: 12.6, xLabel: "Step", yLabel: "Episode Return", offset: "1e7",
    ca: { l: 389, t: 17, r: 669.3, b: 237 }, titleY: 11, yTitleX: 350, xTitleY: 260.7,
    xMin: -0.08, xMax: 2.1, yMin: -153, yMax: -40.5, xTicks: B_XTICKS, yTicks: B_YTICKS, xDec: 2, yDec: 0,
    series: [
      { label: "MAPPO", x: B_MAPPO_X, y: B_MAPPO, sd: B_MAPPO_SD },
      { label: "HAPPO", x: B_HAPPO_X, y: B_HAPPO, sd: B_HAPPO_SD },
      { label: "HATD3", x: B_HATD3_X, y: B_HATD3, sd: B_HATD3_SD },
      { label: "HASAC", x: B_HASAC_X, y: B_HASAC, sd: B_HASAC_SD, alpha: 0.12 },
    ],
    legend: { pos: "lr", dx: 3, dy: 4, items: ["HASAC", "HATD3", "HAPPO", "MAPPO"] },
    caption: "(b) Pursuit-Evade (6 agents)", capX: 508, capY: 276.7,
  },
  {
    title: "ShadowHandTwoCatchUnderarm", titleSize: 12.8, xLabel: "Step", yLabel: "Episode Return", offset: "1e7",
    ca: { l: 717.7, t: 15, r: 1000.7, b: 237 }, titleY: 9.3, yTitleX: 690, xTitleY: 261,
    xMin: -0.045, xMax: 1.05, yMin: -0.45, yMax: 22.7, xTicks: C_XTICKS, yTicks: C_YTICKS, xDec: 1, yDec: 0,
    series: [
      { label: "PPO", x: C_X2, y: C_PPO, sd: C_LOW_SD },
      { label: "SAC", x: C_X2, y: C_SAC, sd: C_LOW_SD },
      { label: "MAPPO", x: C_X2, y: C_MAPPO, sd: C_LOW_SD },
      { label: "HAPPO", x: C_X2, y: C_HAPPO, sd: C_LOW_SD },
      { label: "HATD3", x: C_X, y: C_HATD3, lo: C_HATD3_LO, hi: C_HATD3_HI },
      { label: "HASAC", x: C_X, y: C_HASAC, lo: C_HASAC_LO, hi: C_HASAC_HI, alpha: 0.12 },
    ],
    caption: "(c) Two Catch Underarm", capX: 837.5, capY: 276.7,
  },
  {
    title: "ShadowHandLiftUnderarm", titleSize: 12, xLabel: "Step", yLabel: "Episode Return", offset: "1e7",
    ca: { l: 1056, t: 15, r: 1339.3, b: 237 }, titleY: 9.3, yTitleX: 1021.7, xTitleY: 261,
    xMin: -0.03, xMax: 1.05, yMin: -72.7, yMax: 417, xTicks: D_XTICKS, yTicks: D_YTICKS, xDec: 1, yDec: 0,
    series: [
      { label: "PPO", x: D_PPO_X, y: D_PPO, sd: D_PPO_SD },
      { label: "SAC", x: D_SAC_X, y: D_SAC, sd: D_SAC_SD },
      { label: "MAPPO", x: D_MAPPO_X, y: D_MAPPO, sd: D_MAPPO_SD },
      { label: "HAPPO", x: D_HAPPO_X, y: D_HAPPO, sd: D_HAPPO_SD },
      { label: "HATD3", x: D_HATD3_X, y: D_HATD3, sd: D_HATD3_SD },
      { label: "HASAC", x: D_HASAC_X, y: D_HASAC, sd: D_HASAC_SD, alpha: 0.12 },
    ],
    legend: { pos: "ul", dx: 5.7, dy: 7.7, items: ["PPO", "SAC", "MAPPO", "HAPPO", "HATD3", "HASAC"] },
    caption: "(d) Lift Underarm", capX: 1175, capY: 276.7,
  },
  {
    title: "HalfCheetah-v2 3x2", titleSize: 12.8, xLabel: "Step", yLabel: "Episode Return", offset: "1e7",
    ca: { l: 56, t: 316.7, r: 329.3, b: 521 }, titleY: 307.3, yTitleX: 14, xTitleY: 542.7,
    xMin: -0.03, xMax: 1.045, yMin: -510, yMax: 9923, xTicks: E_XTICKS, yTicks: E_YTICKS, xDec: 1, yDec: 0,
    series: [
      { label: "HATD3", x: E_X, y: E_HATD3, sd: E_HATD3_SD },
      { label: "MAPPO", x: E_X, y: E_MAPPO, sd: E_MAPPO_SD },
      { label: "HAPPO", x: E_X, y: E_HAPPO, sd: E_HAPPO_SD },
      { label: "HASAC", x: E_X, y: E_HASAC, sd: E_HASAC_SD, alpha: 0.12 },
    ],
    caption: "(e) 3x2-Agent HalfCheetah", capX: 170, capY: 562,
  },
  {
    title: "Walker2d-v2 6x1", titleSize: 12.5, xLabel: "Step", yLabel: "Episode Return", offset: "1e7",
    ca: { l: 394, t: 316.7, r: 667.3, b: 520 }, titleY: 307.3, yTitleX: 352.3, xTitleY: 542.3,
    xMin: -0.035, xMax: 1.05, yMin: -232, yMax: 8109, xTicks: F_XTICKS, yTicks: F_YTICKS, xDec: 1, yDec: 0,
    series: [
      { label: "MAPPO", x: F_MAPPO_X, y: F_MAPPO, sd: F_MAPPO_SD, alpha: 0.12 },
      { label: "HATD3", x: F_HATD3_X, y: F_HATD3, sd: F_HATD3_SD, alpha: 0.12 },
      { label: "HAPPO", x: F_HAPPO_X, y: F_HAPPO, sd: F_HAPPO_SD, alpha: 0.12 },
      { label: "HASAC", x: F_HASAC_X, y: F_HASAC, sd: F_HASAC_SD, alpha: 0.12 },
    ],
    legend: { pos: "ul", dx: 5.3, dy: 4.3, items: ["MAPPO", "HATD3", "HAPPO", "HASAC"] },
    caption: "(f) 6x1-Agent Walker2d", capX: 508.3, capY: 561,
  },
  {
    title: "academy  run  pass  and  shoot  with  keeper", titleSize: 12.5, xLabel: "Step", yLabel: "Evaluate Winning Rate", offset: "1e7",
    ca: { l: 724.3, t: 315, r: 1003.3, b: 518.3 }, titleY: 301.7, yTitleX: 693.3, xTitleY: 542.3,
    xMin: -0.095, xMax: 2.105, yMin: -0.0645, yMax: 1.029, xTicks: G_XTICKS, yTicks: G_YTICKS, xDec: 1, yDec: 1,
    series: [
      { label: "QMIX", x: G_QMIX_X, y: G_QMIX, sd: G_QMIX_SD, floor: 0, alpha: 0.15 },
      { label: "MAPPO", x: G_MAPPO_X, y: G_MAPPO, sd: G_MAPPO_SD, alpha: 0.12 },
      { label: "HAPPO", x: G_HAPPO_X, y: G_HAPPO, sd: G_HAPPO_SD, floor: 0, alpha: 0.15 },
      { label: "HASAC", x: G_HASAC_X, y: G_HASAC, lo: G_HASAC_LO, hi: G_HASAC_HI, alpha: 0.12 },
    ],
    caption: "(g) RPS (2 agents)", capX: 846.7, capY: 558.3,
  },
  {
    title: "academy  corner", titleSize: 13, xLabel: "Step", yLabel: "Evaluate Winning Rate", offset: "1e7",
    ca: { l: 1062.7, t: 308.3, r: 1343.3, b: 517.3 }, titleY: 299.3, yTitleX: 1030, xTitleY: 542.3,
    xMin: -0.11, xMax: 2.63, yMin: -0.102, yMax: 0.961, xTicks: H_XTICKS, yTicks: H_YTICKS, xDec: 1, yDec: 1,
    series: [
      { label: "QMIX", x: H_QMIX_X, y: H_QMIX, sd: H_QMIX_SD, alpha: 0.15 },
      { label: "MAPPO", x: H_MAPPO_X, y: H_MAPPO, sd: H_MAPPO_SD, alpha: 0.12 },
      { label: "HAPPO", x: H_HAPPO_X, y: H_HAPPO, lo: H_HAPPO_LO, hi: H_HAPPO_HI, alpha: 0.15 },
      { label: "HASAC", x: H_HASAC_X, y: H_HASAC, sd: H_HASAC_SD, alpha: 0.12 },
    ],
    legend: { pos: "ul", dx: 6.6, dy: 5, items: ["QMIX", "MAPPO", "HAPPO", "HASAC"] },
    caption: "(h) Corner (11 agents)", capX: 1185, capY: 561,
  },
];

const FONT = '"DejaVu Sans", sans-serif';
const TXT = "#1a1a1a";
const GRID = "rgba(140,140,140,0.55)";

function geom(s: Spec) {
  const left = Math.floor(s.yTitleX - 6);
  const top = Math.floor(s.titleY - 9);
  const right = Math.ceil(s.ca.r + 22);
  const bottom = Math.round(s.xTitleY + 6);
  return {
    left, top, w: right - left, h: bottom - top,
    yw: s.ca.l - left, xh: bottom - s.ca.b, padTop: s.ca.t - top, padRight: right - s.ca.r,
  };
}

function Panel({ spec }: { spec: Spec }) {
  const ref = useRef<HTMLCanvasElement>(null);
  const g = geom(spec);
  useEffect(() => {
    const decor = {
      id: "decor",
      afterDraw(chart: any) {
        const ctx = chart.ctx;
        const a = chart.chartArea;
        ctx.save();
        ctx.setLineDash([]);
        ctx.strokeStyle = "#2a2a2a";
        ctx.lineWidth = 1;
        ctx.strokeRect(Math.round(a.left) + 0.5, Math.round(a.top) + 0.5, Math.round(a.right - a.left), Math.round(a.bottom - a.top));
        if (spec.legend) {
          const L = spec.legend;
          ctx.font = `10px ${FONT}`;
          const tw = Math.max(...L.items.map((t) => ctx.measureText(t).width));
          const w = 4 + 20 + 8 + tw + 5;
          const rowH = 15;
          const h = L.items.length * rowH + 5;
          const x0 = L.pos === "lr" ? a.right - L.dx - w : a.left + L.dx;
          const y0 = L.pos === "lr" ? a.bottom - L.dy - h : a.top + L.dy;
          const r = 3;
          ctx.beginPath();
          ctx.moveTo(x0 + r, y0);
          ctx.lineTo(x0 + w - r, y0);
          ctx.quadraticCurveTo(x0 + w, y0, x0 + w, y0 + r);
          ctx.lineTo(x0 + w, y0 + h - r);
          ctx.quadraticCurveTo(x0 + w, y0 + h, x0 + w - r, y0 + h);
          ctx.lineTo(x0 + r, y0 + h);
          ctx.quadraticCurveTo(x0, y0 + h, x0, y0 + h - r);
          ctx.lineTo(x0, y0 + r);
          ctx.quadraticCurveTo(x0, y0, x0 + r, y0);
          ctx.closePath();
          ctx.fillStyle = "rgba(255,255,255,0.85)";
          ctx.fill();
          ctx.strokeStyle = "rgba(205,205,205,1)";
          ctx.stroke();
          L.items.forEach((t, i) => {
            const cy = y0 + 10 + i * rowH;
            ctx.strokeStyle = rgba(COLORS[t], 0.75);
            ctx.lineWidth = 1.6;
            ctx.beginPath();
            ctx.moveTo(x0 + 4, cy);
            ctx.lineTo(x0 + 24, cy);
            ctx.stroke();
            ctx.fillStyle = TXT;
            ctx.textAlign = "left";
            ctx.textBaseline = "middle";
            ctx.fillText(t, x0 + 32, cy + 0.5);
          });
        }
        ctx.font = `${spec.titleSize}px ${FONT}`;
        ctx.fillStyle = TXT;
        ctx.textAlign = "center";
        ctx.textBaseline = "middle";
        ctx.fillText(spec.title, (a.left + a.right) / 2, spec.titleY - g.top);
        if (spec.offset) {
          ctx.font = `10px ${FONT}`;
          ctx.textAlign = "right";
          ctx.fillText(spec.offset, a.right, spec.xTitleY - g.top);
        }
        ctx.restore();
      },
    };
    const axisCommon = {
      type: "linear" as const,
      bounds: "data" as const,
      grid: { color: GRID, lineWidth: 0.8, drawTicks: true, tickLength: 3, tickColor: "#333", tickWidth: 1 },
      border: { display: false, dash: [5, 2, 1.5, 2] },
    };
    const chart = new Chart(ref.current as HTMLCanvasElement, {
      type: "line",
      data: { datasets: buildDatasets(spec.series) },
      options: {
        responsive: false,
        animation: false,
        devicePixelRatio: 1,
        events: [],
        layout: { padding: { top: g.padTop, right: g.padRight, bottom: 0, left: 0 } },
        plugins: { legend: { display: false }, tooltip: { enabled: false }, title: { display: false }, filler: { propagate: false } },
        elements: { point: { radius: 0 }, line: { tension: 0 } },
        scales: {
          x: {
            ...axisCommon,
            min: spec.xMin,
            max: spec.xMax,
            afterBuildTicks: (s: any) => { s.ticks = spec.xTicks.map((v) => ({ value: v })); },
            afterFit: (s: any) => { s.height = g.xh; },
            ticks: { callback: fmt(spec.xDec) as any, maxRotation: 0, autoSkip: false, padding: 2, color: TXT, font: { family: FONT, size: 10 } },
            title: { display: true, text: spec.xLabel, padding: 0, color: TXT, font: { family: FONT, size: 10, lineHeight: 1.2 } },
          },
          y: {
            ...axisCommon,
            min: spec.yMin,
            max: spec.yMax,
            afterBuildTicks: (s: any) => { s.ticks = spec.yTicks.map((v) => ({ value: v })); },
            afterFit: (s: any) => { s.width = g.yw; },
            ticks: { callback: fmt(spec.yDec) as any, autoSkip: false, padding: 2, color: TXT, font: { family: FONT, size: 10 } },
            title: { display: true, text: spec.yLabel, padding: 0, color: TXT, font: { family: FONT, size: 10, lineHeight: 1.2 } },
          },
        },
      } as any,
      plugins: [decor],
    });
    return () => chart.destroy();
  }, []);
  return (
    <canvas
      ref={ref}
      width={g.w}
      height={g.h}
      style={{ position: "absolute", left: g.left, top: g.top, width: g.w, height: g.h }}
    />
  );
}

const capStyle = (x: number, y: number): React.CSSProperties => ({
  position: "absolute",
  left: x,
  top: y,
  transform: "translate(-50%, -50%)",
  fontFamily: '"Liberation Serif", "Times New Roman", serif',
  fontSize: 19,
  lineHeight: "19px",
  color: "#000",
  whiteSpace: "nowrap",
});

export default function App() {
  return (
    <div style={{ position: "absolute", left: 0, top: 0, width: 1349, height: 575, overflow: "hidden", background: "#fff" }}>
      <div style={{ ...capStyle(680, 574), fontSize: 21, lineHeight: "21px" }}>
        Fig. 3: Performance comparisons on a variety of selected tasks of multiple benchmarks and agents.
      </div>
      {PANELS.map((p, i) => (
        <Panel key={i} spec={p} />
      ))}
      {PANELS.map((p, i) => (
        <div key={"c" + i} style={capStyle(p.capX, p.capY)}>
          {p.caption}
        </div>
      ))}
    </div>
  );
}
